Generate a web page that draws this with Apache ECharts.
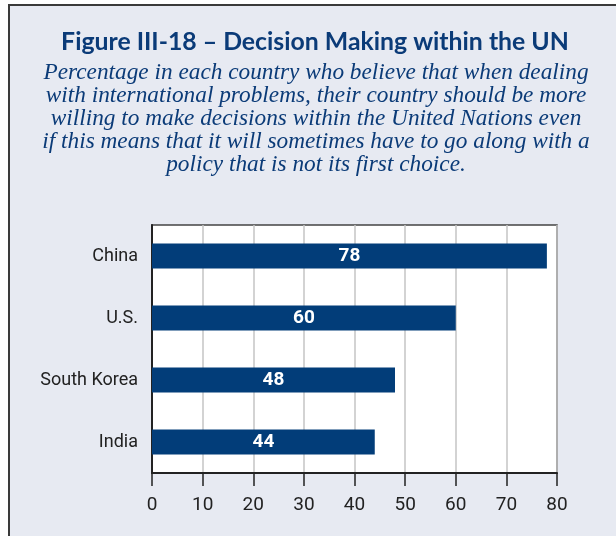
<!DOCTYPE html>
<html>
<head>
<meta charset="utf-8">
<script src="https://cdn.jsdelivr.net/npm/echarts@6/dist/echarts.min.js"></script>
<style>
html,body{margin:0;padding:0;background:#ffffff;}
#frame{position:absolute;left:8px;top:4px;width:620px;height:540px;border:2px solid #3a3a3a;background:#e7eaf2;box-sizing:border-box;}
#chart{position:absolute;left:0;top:0;width:616px;height:536px;}
</style>
</head>
<body>
<div id="frame"></div>
<div id="chart"></div>
<script>
var titleText = 'Figure III-18 \u2013 Decision Making within the UN';
var subtitleLines = [
  'Percentage in each country who believe that when dealing',
  'with international problems, their country should be more',
  'willing to make decisions within the United Nations even',
  'if this means that it will sometimes have to go along with a',
  'policy that is not its first choice.'
];
var countries = ['China', 'U.S.', 'South Korea', 'India'];
var values = [78, 60, 48, 44];
var xTicks = { min: 0, max: 80, interval: 10 };

var condensed = "'Liberation Sans Narrow', 'Arial Narrow', Roboto, sans-serif";
var subStyle = { fontFamily: "'Liberation Serif', 'DejaVu Serif', serif", fontStyle: 'italic', fontSize: 23.3, fill: '#0b3b78', textAlign: 'center', textVerticalAlign: 'middle' };
var graphics = [{
  type: 'text',
  x: 315,
  y: 42,
  style: { text: titleText, fontFamily: "Lato, 'Open Sans', sans-serif", fontWeight: 'bold', fontSize: 24.8, fill: '#0b3b78', textAlign: 'center', textVerticalAlign: 'middle' }
}].concat(subtitleLines.map(function (line, i) {
  return {
    type: 'text',
    x: 316,
    y: 72.5 + i * 23.2,
    style: Object.assign({ text: line }, subStyle)
  };
}));

var chart = echarts.init(document.getElementById('chart'), null, { renderer: 'canvas' });
chart.setOption({
  backgroundColor: 'transparent',
  animation: false,
  graphic: graphics,
  grid: {
    left: 152, right: 59, top: 225, bottom: 63,
    show: true, backgroundColor: '#ffffff', borderColor: '#444', borderWidth: 1.5
  },
  xAxis: {
    type: 'value',
    min: xTicks.min, max: xTicks.max, interval: xTicks.interval,
    axisLine: { show: true, lineStyle: { color: '#222', width: 2 } },
    axisTick: { show: true, length: 13, lineStyle: { color: '#222', width: 1.5 } },
    splitLine: { show: true, lineStyle: { color: '#c4c4c4', width: 1.5 } },
    axisLabel: { margin: 23, fontFamily: condensed, fontSize: 19, color: '#222' }
  },
  yAxis: {
    type: 'category',
    data: countries,
    inverse: true,
    axisLine: { show: true, lineStyle: { color: '#222', width: 2 } },
    axisTick: { show: false },
    axisLabel: { margin: 14, fontFamily: condensed, fontSize: 18, color: '#222' }
  },
  series: [{
    type: 'bar',
    data: values,
    barWidth: 25,
    itemStyle: { color: '#023d79' },
    label: { show: true, position: 'inside', color: '#fff', fontFamily: condensed, fontWeight: 'bold', fontSize: 19 }
  }]
});
</script>
</body>
</html>
